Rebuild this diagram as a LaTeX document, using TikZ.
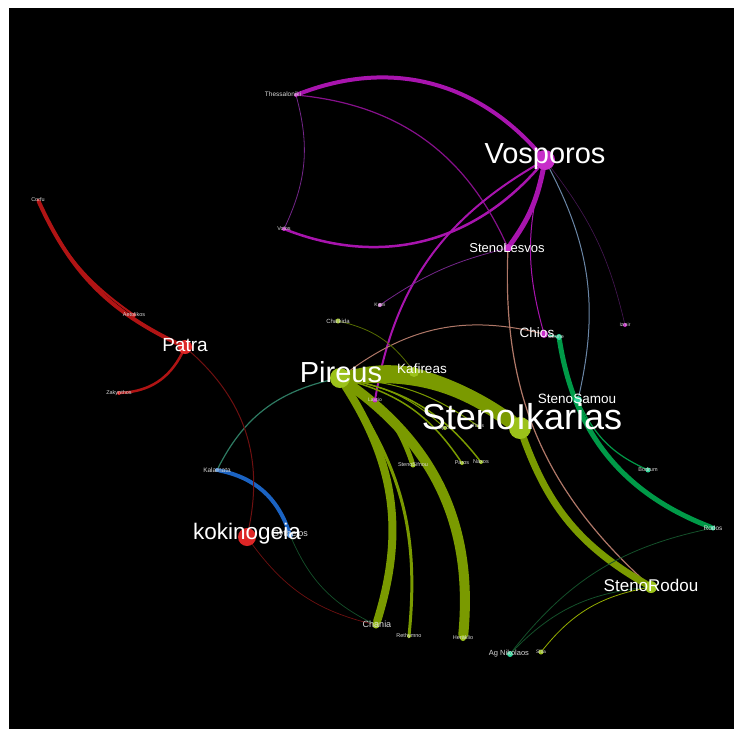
\documentclass[tikz,border=0pt]{standalone}
\usepackage{fontspec}
\setmainfont{Liberation Sans}
\pgfdeclarelayer{back}
\pgfdeclarelayer{links}
\pgfsetlayers{back,links,main}

\definecolor{mag}{HTML}{A814AE}
\definecolor{magnode}{HTML}{C72CC9}
\definecolor{purplethin}{HTML}{74268A}
\definecolor{olive}{HTML}{7A9A00}
\definecolor{olivenode}{HTML}{9CC21A}
\definecolor{rednode}{HTML}{DD2626}
\definecolor{redline}{HTML}{B01414}
\definecolor{darkred}{HTML}{6E1010}
\definecolor{seagreen}{HTML}{009A48}
\definecolor{mint}{HTML}{2ED69A}
\definecolor{blueline}{HTML}{1B63C2}
\definecolor{bluenode}{HTML}{4A90E0}
\definecolor{tealline}{HTML}{2E7A62}
\definecolor{slate}{HTML}{6A86A6}
\definecolor{salmon}{HTML}{B07868}
\definecolor{darkgreen}{HTML}{14502A}
\definecolor{labelgray}{HTML}{D8D8D8}

\tikzset{
  vert/.style={circle, inner sep=0pt, minimum size=#1},
  lbl/.style={text=labelgray, inner sep=0pt, font=\fontsize{#1}{#1}\selectfont},
  biglbl/.style={text=white, inner sep=0pt, font=\fontsize{#1}{#1}\selectfont},
  link/.style={line width=#1, line cap=round},
}

\begin{document}
\begin{tikzpicture}[x=1pt,y=-1pt]
\useasboundingbox (0,0) rectangle (734,740);
\begin{pgfonlayer}{back}
  \fill[white] (0,0) rectangle (734,740);
  \fill[black] (9,8) rectangle (734,729);
\end{pgfonlayer}

% ---------- vertices ----------
\node[vert=20, fill=magnode]   (Vosporos)     at (545,160) {};
\node[vert=4,  fill=magnode]   (Thessaloniki) at (296,95)  {};
\node[vert=4,  fill=magnode]   (Volos)        at (284,229) {};
\node[vert=8,  fill=magnode]   (StenoLesvos)  at (508,248) {};
\node[vert=4,  fill=magnode!60!white] (Kymi)  at (380,305) {};
\node[vert=5,  fill=olivenode] (Chalkida)     at (338,321) {};
\node[vert=8,  fill=magnode]   (Chios)        at (544,334) {};
\node[vert=6,  fill=mint]      (Cesme)        at (559,337) {};
\node[vert=4,  fill=magnode]   (Izmir)        at (625,325) {};
\node[vert=3,  fill=rednode]   (Corfu)        at (38,200)  {};
\node[vert=4,  fill=rednode]   (Aetolikos)    at (134,315) {};
\node[vert=14, fill=rednode]   (Patra)        at (185,347) {};
\node[vert=4,  fill=rednode]   (Zakynthos)    at (119,393) {};
\node[vert=20, fill=olivenode] (Pireus)       at (340,378) {};
\node[vert=10, fill=olivenode] (Kafireas)     at (414,372) {};
\node[vert=5,  fill=magnode]   (Lavrio)       at (375,400) {};
\node[vert=8,  fill=mint]      (StenoSamou)   at (578,400) {};
\node[vert=22, fill=olivenode] (StenoIkarias) at (520,428) {};
\node[vert=4,  fill=olivenode] (Syros)        at (445,428) {};
\node[vert=3,  fill=olivenode] (Tinos)        at (478,426) {};
\node[vert=5,  fill=olivenode] (StenoSifnou)  at (413,465) {};
\node[vert=4,  fill=olivenode] (Paros)        at (462,463) {};
\node[vert=4,  fill=olivenode] (Naxos)        at (481,462) {};
\node[vert=5,  fill=mint]      (Bodrum)       at (648,470) {};
\node[vert=5,  fill=mint]      (Rodos)        at (713,528) {};
\node[vert=4,  fill=bluenode]  (Kalamata)     at (217,470) {};
\node[vert=18, fill=rednode]   (kokinogeia)   at (247,537) {};
\node[vert=6,  fill=bluenode]  (Gytheios)     at (290,535) {};
\node[vert=12, fill=olivenode] (StenoRodou)   at (651,587) {};
\node[vert=7,  fill=olivenode] (Chania)       at (376,625) {};
\node[vert=4,  fill=olivenode] (Rethymno)     at (409,636) {};
\node[vert=6,  fill=olivenode] (Heraklio)     at (463,638) {};
\node[vert=6,  fill=mint]      (AgNikolaos)   at (510,654) {};
\node[vert=5,  fill=olivenode] (Sitia)        at (541,652) {};

% ---------- links ----------
\begin{pgfonlayer}{links}
  % Bosporus routes
  \draw[mag, link=4]   (Thessaloniki) to[bend left=35] (Vosporos);
  \draw[mag, link=5]   (Vosporos) to[bend left=12] (StenoLesvos);
  \draw[purplethin, link=0.8] (Thessaloniki) to[bend left=20] (Volos);
  \draw[mag, link=2.5] (Volos) to[bend right=35] (Vosporos);
  \draw[mag!80!black, link=1.2] (Thessaloniki) to[bend left=30] (StenoLesvos);
  \draw[mag, link=2]   (Vosporos) to[bend right=25] (Lavrio);
  \draw[purplethin, link=0.8] (Kymi) to[bend left=10] (StenoLesvos);
  \draw[mag, link=1]   (Vosporos) to[bend right=15] (Chios);
  \draw[slate, link=1] (Vosporos) to[bend left=20] (StenoSamou);
  \draw[purplethin!60!black, link=0.6] (Vosporos) to[bend left=12] (Izmir);
  \draw[salmon, link=1.2] (StenoLesvos) to[bend right=25] (StenoRodou);
  \draw[salmon, link=1] (Pireus) to[bend left=25] (Chios);
  % Aegean routes from Pireus
  \draw[olive!70!black, link=0.8] (Chalkida) to[bend left=20] (Kafireas);
  \draw[olive, link=14] (Pireus) to[bend left=20] (StenoIkarias);
  \draw[olive, link=10] (Pireus) to[bend left=10] (Kafireas);
  \draw[olive, link=9]  (Kafireas) to[bend left=10] (StenoIkarias);
  \draw[olive, link=8]  (Pireus) to[bend left=25] (Chania);
  \draw[olive, link=10] (Pireus) to[bend left=30] (Heraklio);
  \draw[olive, link=3]  (Pireus) to[bend left=20] (Rethymno);
  \draw[olive, link=5]  (Pireus) to[bend left=20] (StenoSifnou);
  \draw[olive, link=1.5] (Pireus) to[bend left=20] (Paros);
  \draw[olive, link=1.5] (Pireus) to[bend left=20] (Naxos);
  \draw[olive, link=1]  (Pireus) to[bend left=15] (Syros);
  \draw[olive, link=1]  (Pireus) to[bend left=15] (Tinos);
  \draw[olive, link=7]  (StenoIkarias) to[bend right=20] (StenoRodou);
  % Asia Minor coast
  \draw[mint, link=1]   (Chios) -- (Cesme);
  \draw[seagreen, link=5] (Cesme) to[bend right=30] (Rodos);
  \draw[seagreen, link=1.2] (StenoSamou) to[bend right=20] (Bodrum);
  % Peloponnese and Ionian
  \draw[tealline, link=1.2] (Kalamata) to[bend left=25] (Pireus);
  \draw[blueline, link=4] (Kalamata) to[bend left=30] (Gytheios);
  \draw[darkred, link=1] (Patra) to[bend left=30] (kokinogeia);
  \draw[redline, link=4] (Corfu) to[bend right=20] (Patra);
  \draw[redline, link=2] (Corfu) to[bend right=15] (Aetolikos);
  \draw[redline, link=2.5] (Zakynthos) to[bend right=30] (Patra);
  \draw[darkred, link=0.7] (kokinogeia) to[bend right=20] (Chania);
  \draw[darkgreen, link=0.7] (Gytheios) to[bend right=20] (Chania);
  % Crete and Dodecanese
  \draw[darkgreen, link=0.8] (AgNikolaos) to[bend left=20] (StenoRodou);
  \draw[darkgreen, link=0.8] (AgNikolaos) to[bend left=20] (Rodos);
  \draw[olive!80!yellow, link=0.8] (Sitia) to[bend left=20] (StenoRodou);
\end{pgfonlayer}

% ---------- labels ----------
\node[lbl=5.5] (tVolos)       at (284,229) {Volos};
\node[lbl=5]   (tKymi)        at (380,305) {Kymi};
\node[lbl=6]   (tChalkida)    at (338,321) {Chalkida};
\node[lbl=5]   (tCesme)       at (556,337) {Cesme};
\node[lbl=5]   (tIzmir)       at (625,325) {Izmir};
\node[lbl=5.5] (tCorfu)       at (38,200)  {Corfu};
\node[lbl=5.5] (tAetolikos)   at (134,315) {Aetolikos};
\node[lbl=5.5] (tZakynthos)   at (119,393) {Zakynthos};
\node[lbl=5]   (tLavrio)      at (375,400) {Lavrio};
\node[lbl=5]   (tSyros)       at (445,428) {Syros};
\node[lbl=5]   (tTinos)       at (478,426) {Tinos};
\node[lbl=5.5] (tStenoSifnou) at (413,465) {StenoSifnou};
\node[lbl=5.5] (tParos)       at (462,463) {Paros};
\node[lbl=5.5] (tNaxos)       at (481,462) {Naxos};
\node[lbl=5.5] (tBodrum)      at (648,470) {Bodrum};
\node[lbl=5.5] (tRethymno)    at (409,636) {Rethymno};
\node[lbl=5.5] (tHeraklio)    at (463,638) {Heraklio};
\node[lbl=5]   (tSitia)       at (541,652) {Sitia};
\node[lbl=6.5] (tThessaloniki) at (283,94) {Thessaloniki};
\node[lbl=6.5] (tKalamata)    at (217,470) {Kalamata};
\node[lbl=6.5] (tRodos)       at (713,528) {Rodos};
\node[lbl=9]   (tGytheios)    at (290,534) {Gytheios};
\node[lbl=9]   (tChania)      at (377,624) {Chania};
\node[lbl=7.5] (tAgNikolaos)  at (509,654) {Ag Nikolaos};
\node[biglbl=13]   (tStenoLesvos)  at (507,248) {StenoLesvos};
\node[biglbl=13.5] (tChios)        at (537,333) {Chios};
\node[biglbl=13.5] (tKafireas)     at (422,369) {Kafireas};
\node[biglbl=13.5] (tStenoSamou)   at (577,399) {StenoSamou};
\node[biglbl=17]   (tStenoRodou)   at (651,585) {StenoRodou};
\node[biglbl=19]   (tPatra)        at (185,345) {Patra};
\node[biglbl=22.5] (tkokinogeia)   at (247,534) {kokinogeia};
\node[biglbl=29]   (tPireus)       at (341,372) {Pireus};
\node[biglbl=29]   (tVosporos)     at (545,157) {Vosporos};
\node[biglbl=36]   (tStenoIkarias) at (522,417) {StenoIkarias};
\end{tikzpicture}
\end{document}
